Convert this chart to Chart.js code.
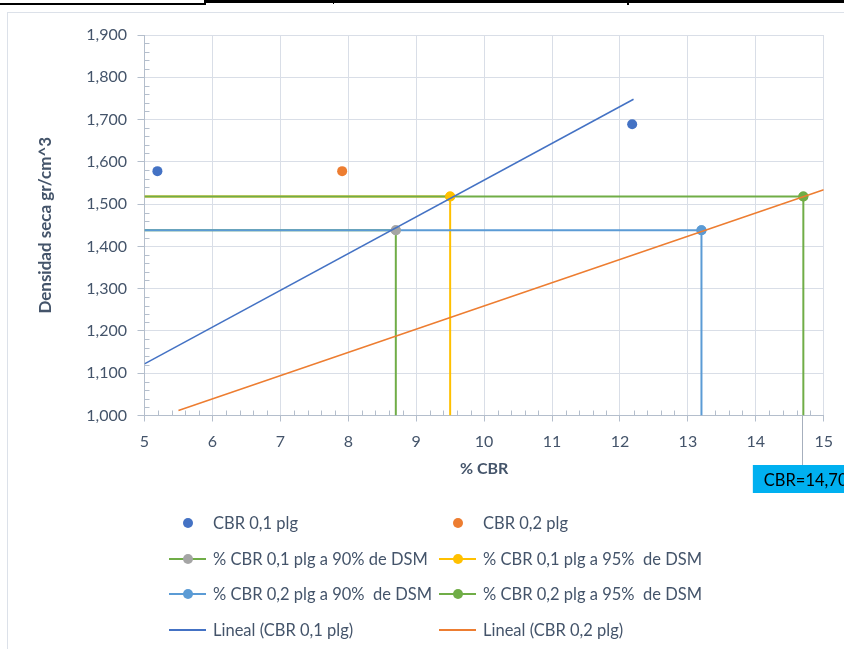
<!DOCTYPE html>
<html>
<head>
<meta charset="utf-8">
<script src="https://cdn.jsdelivr.net/npm/chart.js@4/dist/chart.umd.min.js"></script>
<style>
  html, body { margin: 0; padding: 0; background: #fff; }
  body { width: 844px; height: 649px; position: relative; overflow: hidden; font-family: Lato, "Open Sans", sans-serif; }
  .rule { position: absolute; background: #000; }
  .frame { position: absolute; left: 7px; top: 12px; width: 900px; height: 700px;
           border-left: 1px solid #DCE1E9; border-top: 1px solid #DCE1E9; }
  #wrap { position: absolute; left: 0; top: 0; width: 844px; height: 649px; }
  #legend { position: absolute; left: 0; top: 0; width: 844px; height: 649px; pointer-events: none; }
  .lg-text { position: absolute; font-size: 16.5px; line-height: 20px; color: #44546A; white-space: pre; }
  .lg-line { position: absolute; }
  .lg-dot { position: absolute; width: 10px; height: 10px; border-radius: 50%; }
</style>
</head>
<body>
<!-- spreadsheet cell borders above the chart -->
<div class="rule" style="left:0;top:3px;width:205px;height:2px"></div>
<div class="rule" style="left:204px;top:0;width:640px;height:3px"></div>
<div class="rule" style="left:204px;top:0;width:2px;height:5px"></div>
<div class="rule" style="left:333px;top:0;width:1px;height:4px"></div>
<div class="rule" style="left:627px;top:0;width:2px;height:5px"></div>
<div class="frame"></div>
<div id="wrap"><canvas id="c" width="844" height="649"></canvas></div>
<div id="legend"></div>

<script>
// ---- data ----
const seriesNames = [
  'CBR 0,1 plg',
  'CBR 0,2 plg',
  '% CBR 0,1 plg a 90% de DSM',
  '% CBR 0,1 plg a 95%  de DSM',
  '% CBR 0,2 plg a 90%  de DSM',
  '% CBR 0,2 plg a 95%  de DSM',
  'Lineal (CBR 0,1 plg)',
  'Lineal (CBR 0,2 plg)'
];

// measured CBR points (x = % CBR, y = dry density)
const cbr01X = [5.19, 12.18];
const cbr01Y = [1.578, 1.689];
const cbr02X = [7.91];
const cbr02Y = [1.578];

// guide lines at 90% and 95% of max dry density
const guide01at90X = [5, 8.70, 8.70];
const guide01at90Y = [1.438, 1.438, 1.000];
const guide01at95X = [5, 9.50, 9.50];
const guide01at95Y = [1.518, 1.518, 1.000];
const guide02at90X = [5, 13.20, 13.20];
const guide02at90Y = [1.438, 1.438, 1.000];
const guide02at95X = [5, 14.70, 14.70];
const guide02at95Y = [1.518, 1.518, 1.000];

// linear trend lines
const trend01X = [5, 12.2];
const trend01Y = [1.122, 1.748];
const trend02X = [5.5, 15];
const trend02Y = [1.012, 1.534];

// axis ticks
const xTicks = [5, 6, 7, 8, 9, 10, 11, 12, 13, 14, 15];
const yTicks = [1.0, 1.1, 1.2, 1.3, 1.4, 1.5, 1.6, 1.7, 1.8, 1.9];

// ---- styling ----
const FONT = 'Lato, "Open Sans", sans-serif';
const TEXT = '#44546A';
const GRID = '#D9DEE7';
const AXIS = '#B4BECC';

const pts = (xs, ys) => xs.map((x, i) => ({ x, y: ys[i] }));
const comma = (v, d) => v.toFixed(d).replace('.', ',');

function dots(label, xs, ys, color) {
  return { label, data: pts(xs, ys), showLine: false, pointRadius: 5, pointHoverRadius: 5,
           pointBorderWidth: 0, pointBackgroundColor: color, pointBorderColor: color,
           borderColor: color, backgroundColor: color, order: 1, kind: 'dot' };
}
function guide(label, xs, ys, lineColor, markColor, order) {
  return { label, data: pts(xs, ys), showLine: true, borderColor: lineColor, borderWidth: 2,
           pointRadius: [0, 5, 0], pointHoverRadius: [0, 5, 0], pointBorderWidth: 0,
           pointBackgroundColor: markColor, pointBorderColor: markColor,
           backgroundColor: markColor, order, kind: 'guide' };
}
function trend(label, xs, ys, color) {
  return { label, data: pts(xs, ys), showLine: true, borderColor: color, borderWidth: 1.5,
           pointRadius: 0, pointHoverRadius: 0, backgroundColor: color, order: 0, kind: 'trend' };
}

const datasets = [
  dots(seriesNames[0], cbr01X, cbr01Y, '#4472C4'),
  dots(seriesNames[1], cbr02X, cbr02Y, '#ED7D31'),
  guide(seriesNames[2], guide01at90X, guide01at90Y, '#70AD47', '#A5A5A5', 5),
  guide(seriesNames[3], guide01at95X, guide01at95Y, '#FFC000', '#FFC000', 4),
  guide(seriesNames[4], guide02at90X, guide02at90Y, '#5B9BD5', '#5B9BD5', 3),
  guide(seriesNames[5], guide02at95X, guide02at95Y, '#70AD47', '#70AD47', 2),
  trend(seriesNames[6], trend01X, trend01Y, '#4472C4'),
  trend(seriesNames[7], trend02X, trend02Y, '#ED7D31')
];

// small inner ticks between the labelled ones
const minorTicks = {
  id: 'minorTicks',
  beforeDatasetsDraw(chart) {
    const { ctx, scales: { x, y } } = chart;
    ctx.save();
    ctx.strokeStyle = AXIS;
    ctx.lineWidth = 1;
    ctx.beginPath();
    for (let i = 1; i < 45; i++) {
      if (i % 5 === 0) continue;
      const py = Math.round(y.getPixelForValue(yTicks[0] + i * 0.02)) + 0.5;
      ctx.moveTo(x.left, py); ctx.lineTo(x.left + 5, py);
    }
    for (let i = 1; i < 50; i++) {
      if (i % 5 === 0) continue;
      const px = Math.round(x.getPixelForValue(xTicks[0] + i * 0.2)) + 0.5;
      ctx.moveTo(px, y.bottom); ctx.lineTo(px, y.bottom - 5);
    }
    ctx.stroke();
    ctx.restore();
  }
};

// keep the guide markers above the crossing guide lines
const markersOnTop = {
  id: 'markersOnTop',
  afterDatasetDraw(chart, args) {
    if (args.index !== 5) return;
    [2, 3, 4, 5].forEach(i => {
      chart.getDatasetMeta(i).data.forEach(p => p.draw(chart.ctx, chart.chartArea));
    });
  }
};

// callout with the CBR read at 95% of DSM (0,2 plg)
const tagValue = guide02at95X[2];
const valueTag = {
  id: 'valueTag',
  afterDraw(chart) {
    const { ctx, scales: { x, y } } = chart;
    const px = x.getPixelForValue(tagValue);
    const top = y.bottom + 49.5;
    const lx = Math.round(px) - 0.5;
    ctx.save();
    ctx.strokeStyle = '#A6AFBD';
    ctx.lineWidth = 1;
    ctx.beginPath(); ctx.moveTo(lx, y.bottom); ctx.lineTo(lx, top); ctx.stroke();
    ctx.fillStyle = '#00B0F0';
    ctx.fillRect(px - 50.5, top, 110, 28);
    ctx.fillStyle = '#000';
    ctx.font = '16.5px ' + FONT;
    ctx.textBaseline = 'middle';
    ctx.textAlign = 'left';
    ctx.fillText('CBR=' + comma(tagValue, 2), px - 39.5, top + 16);
    ctx.restore();
  }
};

function buildLegend() {
  const box = document.getElementById('legend');
  const cols = [169, 439];
  const rows = [523, 558.5, 594, 630];
  datasets.forEach((ds, i) => {
    const left = cols[i % 2];
    const cy = rows[Math.floor(i / 2)];
    if (ds.kind !== 'dot') {
      const ln = document.createElement('div');
      ln.className = 'lg-line';
      const w = ds.borderWidth;
      ln.style.cssText = `left:${left}px;top:${cy - w / 2}px;width:37px;height:${w}px;background:${ds.borderColor}`;
      box.appendChild(ln);
    }
    if (ds.kind !== 'trend') {
      const d = document.createElement('div');
      d.className = 'lg-dot';
      d.style.cssText = `left:${left + 13.5}px;top:${cy - 5}px;background:${ds.pointBackgroundColor}`;
      box.appendChild(d);
    }
    const t = document.createElement('div');
    t.className = 'lg-text';
    t.style.left = (left + 44) + 'px';
    t.style.top = (cy - 10) + 'px';
    t.textContent = ds.label;
    box.appendChild(t);
  });
}

function draw() {
  const tickFont = { family: FONT, size: 16 };
  new Chart(document.getElementById('c'), {
    type: 'scatter',
    data: { datasets },
    options: {
      responsive: false,
      animation: false,
      events: [],
      layout: { padding: { left: 31, right: 19, top: 35, bottom: 166.5 } },
      plugins: { legend: { display: false }, tooltip: { enabled: false } },
      scales: {
        x: {
          type: 'linear', min: xTicks[0], max: xTicks[xTicks.length - 1],
          afterBuildTicks: s => { s.ticks = xTicks.map(v => ({ value: v })); },
          afterFit: s => { s.height = 67; },
          ticks: { color: TEXT, font: tickFont, padding: 11, maxRotation: 0, callback: v => String(v) },
          grid: { color: GRID, tickColor: AXIS, tickLength: 6, lineWidth: 1 },
          border: { color: AXIS, width: 1 },
          title: { display: true, text: '% CBR', color: TEXT,
                   font: { family: FONT, size: 16, weight: 'bold' }, padding: { top: 4, bottom: 4 } }
        },
        y: {
          type: 'linear', min: yTicks[0], max: yTicks[yTicks.length - 1],
          afterBuildTicks: s => { s.ticks = yTicks.map(v => ({ value: v })); },
          afterFit: s => { s.width = 113.5; },
          ticks: { color: TEXT, font: tickFont, padding: 10.5, callback: v => comma(v, 3) },
          grid: { color: GRID, tickColor: AXIS, tickLength: 7, lineWidth: 1 },
          border: { color: AXIS, width: 1 },
          title: { display: true, text: 'Densidad seca gr/cm^3', color: TEXT,
                   font: { family: FONT, size: 17, weight: 'bold' }, padding: { top: 4, bottom: 4 } }
        }
      }
    },
    plugins: [minorTicks, markersOnTop, valueTag]
  });
  buildLegend();
}

const fontsReady = document.fonts
  ? Promise.all([document.fonts.load('16px Lato'), document.fonts.load('bold 16px Lato')]).catch(() => {})
  : Promise.resolve();
fontsReady.then(draw);
</script>
</body>
</html>
